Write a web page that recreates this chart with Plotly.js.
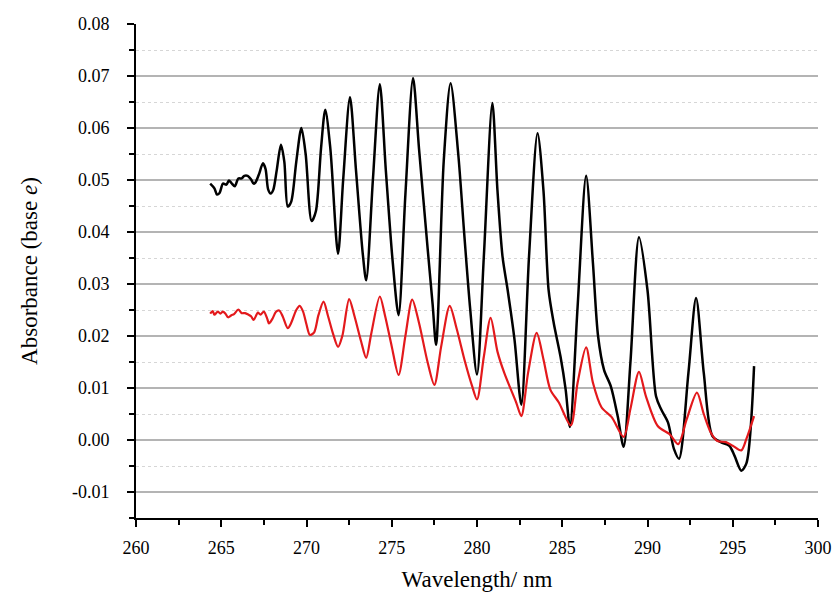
<!DOCTYPE html>
<html>
<head>
<meta charset="utf-8">
<script src="https://cdn.plot.ly/plotly-3.0.1.min.js"></script>
<style>html,body{margin:0;padding:0;background:#fff;}#chart{width:835px;height:605px;}</style>
</head>
<body>
<div id="chart"></div>
<script>
// Black spectrum (wavelength nm, absorbance)
const blackX = [264.35,264.6,264.75,264.9,265.1,265.3,265.45,265.6,265.8,266.0,266.2,266.35,266.55,266.75,266.9,267.0,267.2,267.45,267.6,267.75,267.9,268.05,268.25,268.5,268.7,268.9,269.1,269.4,269.7,269.95,270.3,270.55,270.85,271.1,271.4,271.85,272.15,272.55,272.9,273.3,273.5,273.9,274.3,274.65,275.05,275.4,275.8,276.25,276.6,277.1,277.4,277.6,278.05,278.45,278.9,279.25,279.6,280.0,280.4,280.9,281.2,281.5,281.8,282.2,282.6,283.05,283.55,283.9,284.2,284.5,284.9,285.2,285.45,285.9,286.4,286.8,287.1,287.45,287.85,288.25,288.6,289.0,289.5,290.0,290.5,290.8,291.2,291.55,291.85,292.4,292.85,293.3,293.8,294.3,294.8,295.1,295.5,295.8,296.25];
const blackY = [0.0493,0.0484,0.0472,0.0475,0.0493,0.0491,0.0499,0.0494,0.0488,0.0503,0.0503,0.0508,0.0508,0.0501,0.0493,0.0495,0.0510,0.0532,0.0521,0.0482,0.0474,0.0481,0.0518,0.0568,0.0535,0.0449,0.0458,0.0535,0.0600,0.0550,0.0421,0.0440,0.0560,0.0635,0.0560,0.0358,0.0500,0.0659,0.0520,0.0358,0.0307,0.0503,0.0684,0.0520,0.0345,0.0240,0.0472,0.0696,0.0560,0.0370,0.0260,0.0183,0.0537,0.0686,0.0550,0.0397,0.0252,0.0126,0.0352,0.0648,0.0480,0.0352,0.0288,0.0193,0.0068,0.0352,0.0590,0.0479,0.0288,0.0225,0.0160,0.0097,0.0025,0.0256,0.0508,0.0340,0.0200,0.0135,0.0103,0.0046,-0.0013,0.0150,0.0390,0.0288,0.0084,0.0059,0.0034,-0.0017,-0.0036,0.0129,0.0273,0.0129,0.0008,-0.0004,-0.0011,-0.0030,-0.0059,-0.0045,0.0142];

// Red spectrum
const redX = [264.35,264.5,264.6,264.8,264.95,265.1,265.25,265.4,265.6,265.75,266.0,266.2,266.4,266.6,266.75,266.9,267.15,267.3,267.5,267.7,267.8,268.0,268.2,268.4,268.6,268.9,269.1,269.4,269.6,269.8,270.0,270.2,270.45,270.7,271.0,271.25,271.55,271.85,272.1,272.5,272.8,273.2,273.5,273.8,274.3,274.6,275.0,275.4,275.8,276.2,276.6,277.1,277.5,277.9,278.4,278.8,279.3,279.7,280.0,280.4,280.8,281.2,281.6,282.3,282.6,283.0,283.5,283.9,284.3,284.8,285.5,285.9,286.4,286.8,287.3,287.9,288.6,289.0,289.5,289.9,290.6,291.3,291.8,292.3,292.9,293.3,293.7,294.1,294.6,295.0,295.5,295.8,296.25];
const redY = [0.0243,0.0248,0.0241,0.0247,0.0243,0.0247,0.0243,0.0236,0.0240,0.0242,0.0251,0.0244,0.0244,0.0241,0.0238,0.0231,0.0245,0.0241,0.0247,0.0233,0.0224,0.0233,0.0246,0.0249,0.0238,0.0215,0.0225,0.0250,0.0258,0.0247,0.0222,0.0202,0.0207,0.0240,0.0266,0.0240,0.0205,0.0179,0.0200,0.0271,0.0240,0.0190,0.0158,0.0205,0.0276,0.0240,0.0180,0.0125,0.0200,0.0270,0.0225,0.0150,0.0106,0.0180,0.0258,0.0215,0.0150,0.0105,0.0078,0.0160,0.0235,0.0170,0.0129,0.0072,0.0046,0.0130,0.0206,0.0155,0.0097,0.0072,0.0028,0.0110,0.0178,0.0110,0.0063,0.0044,0.0006,0.0060,0.0131,0.0085,0.0027,0.0011,-0.0008,0.0040,0.0091,0.0050,0.0015,-0.0002,-0.0004,-0.0011,-0.0020,0.0002,0.0046];

const xTicks = [260,265,270,275,280,285,290,295,300];
const yTicks = [-0.01,0.00,0.01,0.02,0.03,0.04,0.05,0.06,0.07,0.08];
const yTickText = ['-0.01','0.00','0.01','0.02','0.03','0.04','0.05','0.06','0.07','0.08'];
const yGridMajor = [-0.01,0.00,0.01,0.02,0.03,0.04,0.05,0.06,0.07];
const yGridMinor = [-0.005,0.005,0.015,0.025,0.035,0.045,0.055,0.065,0.075];

const FONT = '"Liberation Serif", "Times New Roman", serif';

const traces = [
  {x: blackX, y: blackY, type: 'scatter', mode: 'lines', line: {color: '#000000', width: 2.5, shape: 'spline', smoothing: 0.8}, hoverinfo: 'skip', showlegend: false},
  {x: redX, y: redY, type: 'scatter', mode: 'lines', line: {color: '#e3191c', width: 2.2, shape: 'spline', smoothing: 0.8}, hoverinfo: 'skip', showlegend: false}
];

const layout = {
  width: 835, height: 605,
  margin: {l: 136, r: 17, t: 23.5, b: 86.5},
  paper_bgcolor: '#ffffff', plot_bgcolor: '#ffffff',
  font: {family: FONT, color: '#000000', size: 18},
  xaxis: {
    range: [260, 300], tickmode: 'array', tickvals: xTicks, ticktext: xTicks.map(String),
    showgrid: false, zeroline: false, showline: true, linecolor: '#000', linewidth: 2,
    ticks: 'outside', ticklen: 7, tickwidth: 2, tickcolor: '#000', ticklabelstandoff: 5,
    minor: {dtick: 2.5, tick0: 260, ticks: 'outside', ticklen: 5, tickwidth: 2, tickcolor: '#000', showgrid: false},
    tickfont: {family: FONT, size: 18},
    title: {text: 'Wavelength/ nm', font: {family: FONT, size: 23}, standoff: 14},
    fixedrange: true
  },
  yaxis: {
    range: [-0.015, 0.08], tickmode: 'array', tickvals: yTicks, ticktext: yTickText,
    showgrid: false, zeroline: false, showline: true, linecolor: '#000', linewidth: 2,
    ticks: 'outside', ticklen: 7, tickwidth: 2, tickcolor: '#000', ticklabelstandoff: 14,
    minor: {tickmode: 'array', tickvals: yGridMinor.concat([-0.015]), ticks: 'outside', ticklen: 5, tickwidth: 2, tickcolor: '#000', showgrid: false},
    tickfont: {family: FONT, size: 18},
    title: {text: 'Absorbance (base <i>e</i>)', font: {family: FONT, size: 23}, standoff: 28},
    fixedrange: true
  },
  yaxis2: {
    range: [-0.015, 0.08], overlaying: 'y', side: 'left', anchor: 'x',
    tickmode: 'array', tickvals: yGridMajor, showticklabels: false, ticks: '',
    showgrid: true, gridcolor: '#b4b4b4', gridwidth: 1.6, zeroline: false, showline: false,
    minor: {tickmode: 'array', tickvals: yGridMinor, showgrid: true, gridcolor: '#d6d6d6', gridwidth: 1, griddash: 'dot', ticks: ''},
    fixedrange: true
  },
  showlegend: false
};

// invisible anchor trace so the grid axis (yaxis2) is drawn
traces.unshift({x: [260], y: [0], yaxis: 'y2', type: 'scatter', mode: 'markers', marker: {opacity: 0}, hoverinfo: 'skip', showlegend: false});

Plotly.newPlot('chart', traces, layout, {staticPlot: true, displayModeBar: false});
</script>
</body>
</html>
